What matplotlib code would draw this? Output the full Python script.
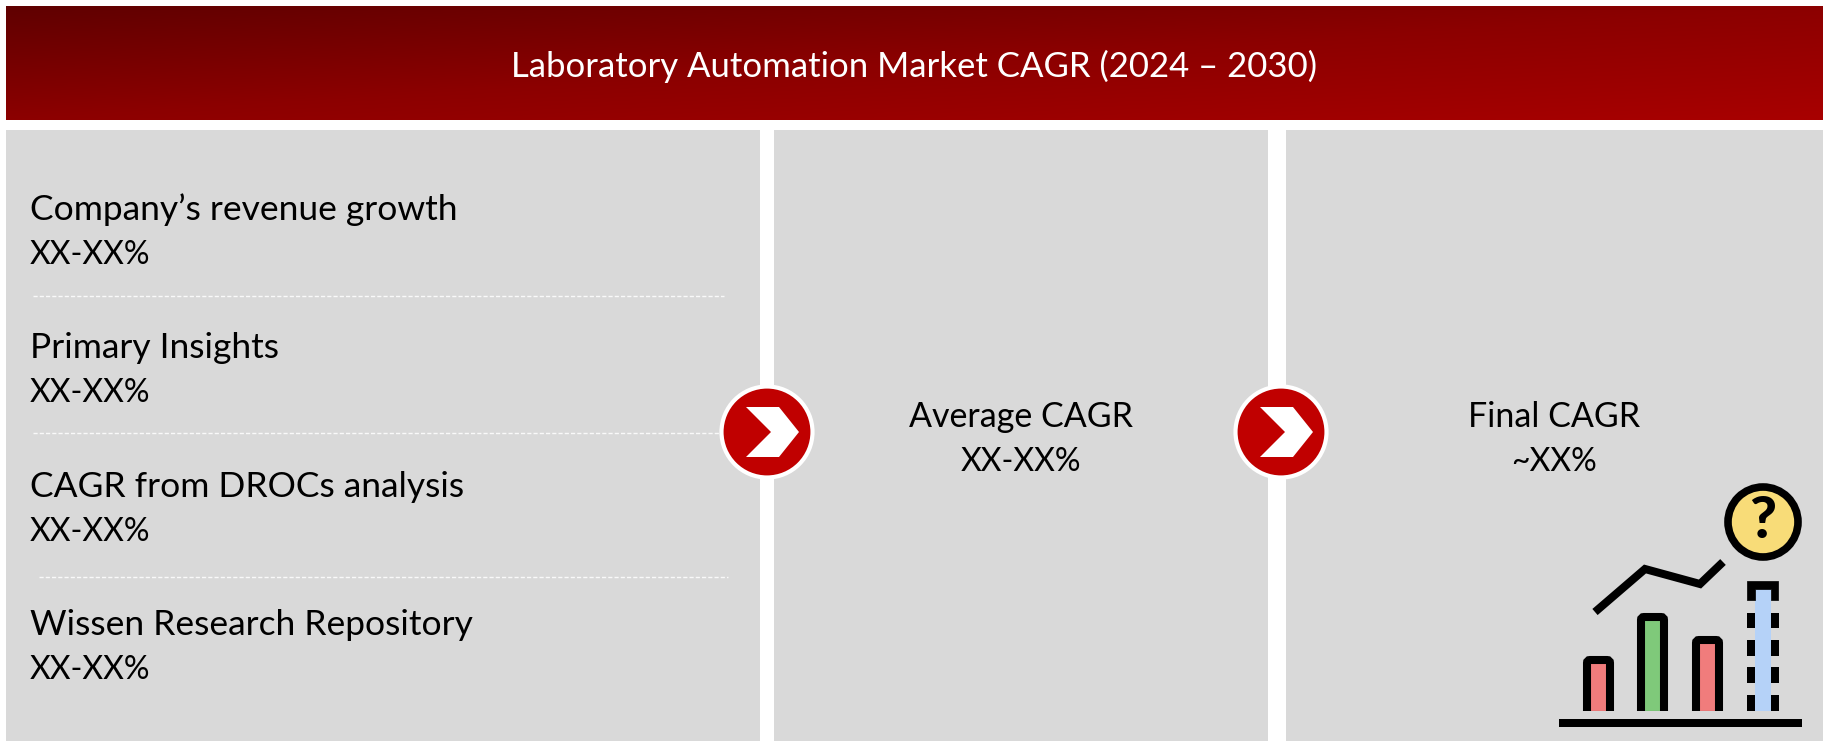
import numpy as np
import matplotlib
matplotlib.use('Agg')
import matplotlib.pyplot as plt
from matplotlib.colors import LinearSegmentedColormap
from matplotlib.patches import Circle, Polygon, Rectangle, FancyBboxPatch

plt.rcParams['font.family'] = ['Lato', 'DejaVu Sans']

title = 'Laboratory Automation Market CAGR (2024 – 2030)'
source_labels = ['Company’s revenue growth', 'Primary Insights',
                 'CAGR from DROCs analysis', 'Wissen Research Repository']
source_values = ['XX-XX%', 'XX-XX%', 'XX-XX%', 'XX-XX%']
average_label = ['Average CAGR', 'XX-XX%']
final_label = ['Final CAGR', '~XX%']

# icon bars: left edge, top, colour (in pixels of the 1830x753 picture)
icon_bar_left = [1583, 1637, 1692]
icon_bar_top = [656, 613, 636]
icon_bar_color = ['#f07c7c', '#7fc97a', '#f07c7c']
icon_line_x = [1595, 1645, 1700, 1723]
icon_line_y = [612, 569, 584, 562]

fig = plt.figure(figsize=(18.30, 7.53), dpi=100)
ax = fig.add_axes([0, 0, 1, 1])
ax.set_axis_off()

# header with diagonal gradient
gx, gy = np.meshgrid(np.linspace(0, 1, 400), np.linspace(0, 1, 60))
cmap = LinearSegmentedColormap.from_list('hdr', ['#600000', '#8c0000', '#a80000'])
ax.imshow(0.5 * gx + 0.5 * gy, cmap=cmap, extent=(6, 1823, 120, 6), aspect='auto', zorder=1)
ax.text(914, 66, title, color='white', fontsize=25, ha='center', va='center', zorder=3)

# panels
for x0, x1 in [(6, 760), (774, 1268), (1286, 1823)]:
    ax.add_patch(Rectangle((x0, 130), x1 - x0, 611, facecolor='#d9d9d9', edgecolor='none', zorder=1))

# left column
label_y = [210, 348, 487, 625]
value_y = [255, 393, 532, 670]
for lab, val, ly, vy in zip(source_labels, source_values, label_y, value_y):
    ax.text(30, ly, lab, fontsize=25.5, color='black', ha='left', va='center', zorder=3)
    ax.text(30, vy, val, fontsize=23, color='black', ha='left', va='center', zorder=3)

for x0, x1, y in [(33, 724, 296), (33, 720, 433), (39, 728, 577)]:
    ax.plot([x0, x1], [y, y], color='white', lw=1, alpha=0.85, ls=(0, (3, 1.5)), zorder=2)

ax.text(1021, 417, average_label[0], fontsize=24.5, ha='center', va='center', zorder=3)
ax.text(1021, 462, average_label[1], fontsize=23, ha='center', va='center', zorder=3)
ax.text(1554, 417, final_label[0], fontsize=24.5, ha='center', va='center', zorder=3)
ax.text(1554, 462, final_label[1], fontsize=23, ha='center', va='center', zorder=3)

# arrows between the panels
for cx in [767, 1281]:
    ax.add_patch(Circle((cx, 432), 45.5, facecolor='#c00000', edgecolor='white', lw=3, zorder=4))
    chevron = [(-21, -25), (12, -25), (32, 0), (12, 25), (-21, 25), (4, 0)]
    ax.add_patch(Polygon([(cx + px, 432 + py) for px, py in chevron], facecolor='white', edgecolor='none', zorder=5))

# icon
ax.add_patch(Rectangle((1559, 719), 243, 8, facecolor='black', edgecolor='none', zorder=3))
for left, top, col in zip(icon_bar_left, icon_bar_top, icon_bar_color):
    ax.add_patch(FancyBboxPatch((left + 4, top + 4), 23, 711 - top, boxstyle='round,pad=0,rounding_size=3',
                                facecolor='none', edgecolor='black', lw=5.8, zorder=3))
    ax.add_patch(Rectangle((left + 8, top + 8), 15, 711 - top - 8, facecolor=col, edgecolor='none', zorder=2))
    ax.add_patch(Rectangle((left - 2, 711), 36, 8, facecolor='#d9d9d9', edgecolor='none', zorder=4))

# dashed forecast bar
ax.add_patch(Rectangle((1755, 589), 16, 122, facecolor='#b5d2f8', edgecolor='none', zorder=2))
ax.add_patch(Polygon([(1747, 600), (1747, 581), (1778, 581), (1778, 600), (1771, 600), (1771, 589), (1755, 589), (1755, 600)],
                     facecolor='black', edgecolor='black', lw=0.5, joinstyle='round', zorder=3))
for y0, y1 in [(613, 628), (640, 656), (667, 683), (695, 711)]:
    for x0 in [1747, 1771]:
        ax.add_patch(Rectangle((x0, y0), 7.5, y1 - y0, facecolor='black', edgecolor='none', zorder=3))

ax.plot(icon_line_x, icon_line_y, color='black', lw=5.8, solid_joinstyle='miter', solid_capstyle='butt', zorder=3)
ax.add_patch(Circle((1763, 522), 35, facecolor='#f8dc78', edgecolor='black', lw=5.5, zorder=3))
ax.text(1763, 521, '?', fontsize=42, fontweight='black', ha='center', va='center', color='black', zorder=4)

ax.set_xlim(0, 1830)
ax.set_ylim(753, 0)
fig.savefig('out.png', dpi=100, facecolor='white')
